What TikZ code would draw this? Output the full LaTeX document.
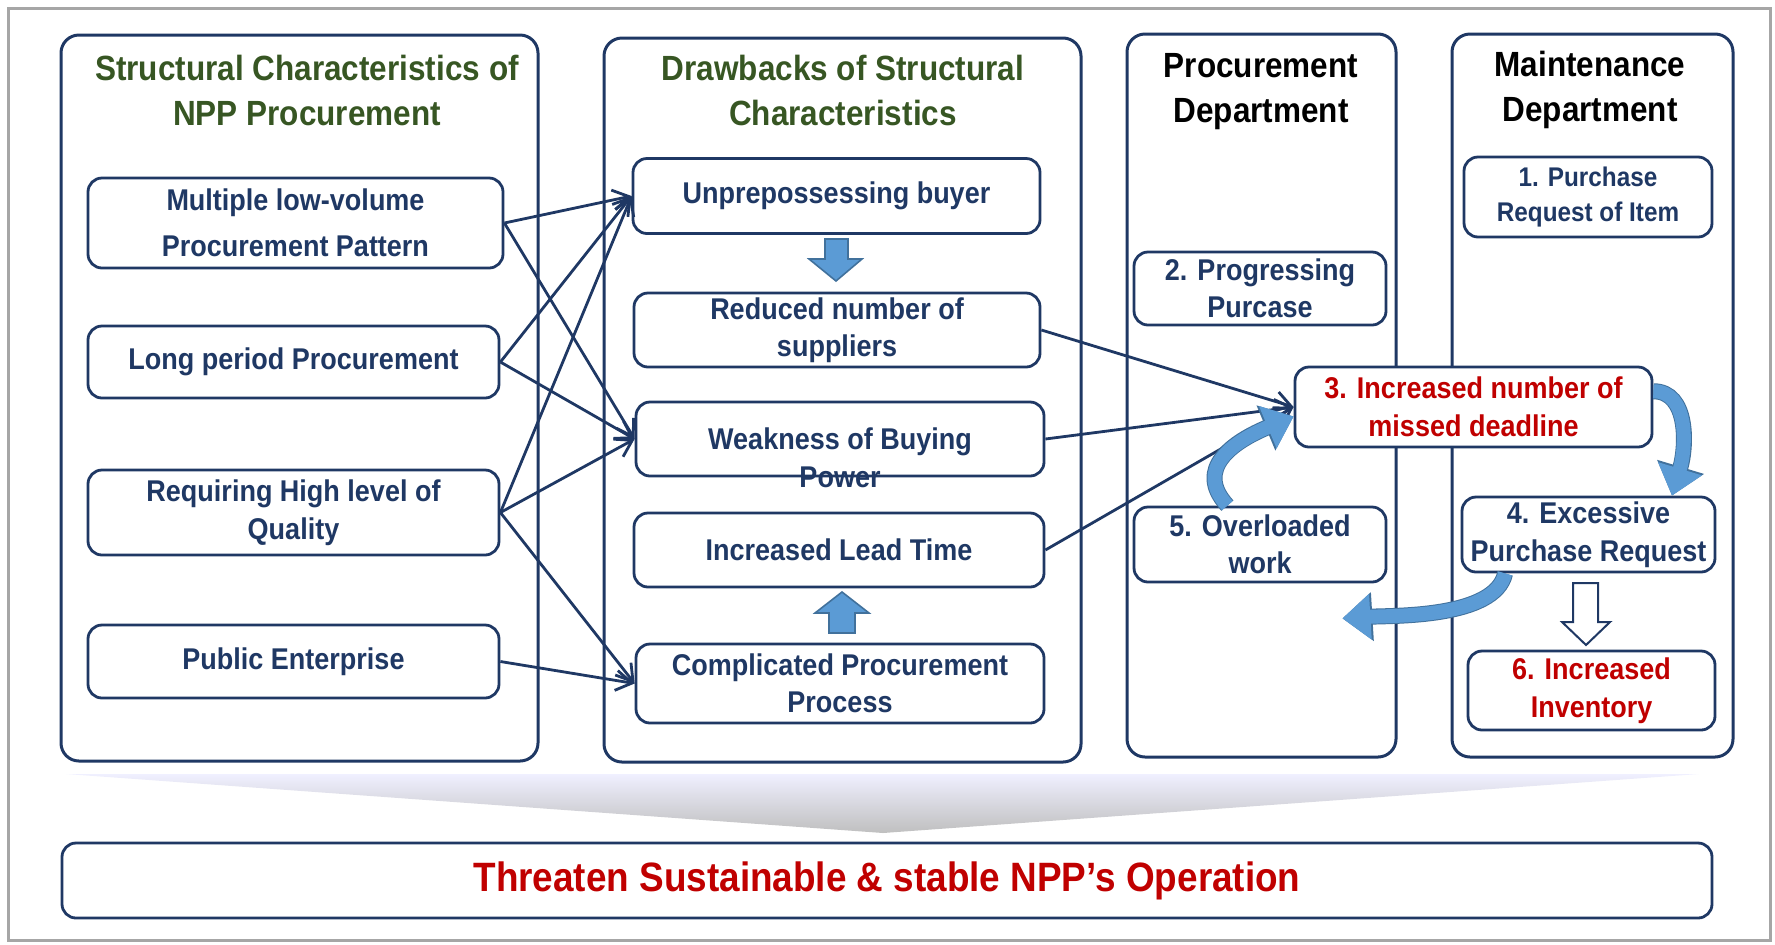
\documentclass[tikz,border=0pt]{standalone}
\usepackage{fontspec}
\setmainfont{Liberation Sans}[FakeStretch=0.9]
\usetikzlibrary{arrows.meta,positioning}
\definecolor{navy}{HTML}{1F3864}
\definecolor{leafgreen}{HTML}{375623}
\definecolor{darkred}{HTML}{C00000}
\definecolor{arrowblue}{HTML}{5B9BD5}
\definecolor{arrowedge}{HTML}{41719C}
\definecolor{framegray}{HTML}{A6A6A6}
\newcommand{\itemfont}{\bfseries\fontsize{15pt}{18.75pt}\selectfont}
\newcommand{\headfont}{\bfseries\fontsize{17.5pt}{22.5pt}\selectfont}
\tikzset{
	panel/.style = {draw=navy, line width=1.5pt, rounded corners=9pt},
	item/.style = {draw=navy, line width=1.4pt, rounded corners=7pt, fill=white,
		text=navy, font=\itemfont, align=center, inner sep=0pt},
	boxsize/.style 2 args = {minimum width=#1*0.5pt, minimum height=#2*0.5pt},
	heading/.style = {font=\headfont, align=center, text=leafgreen},
	dept/.style = {font=\headfont, align=center, text=black},
	link/.style = {navy, line width=1.4pt, -{Straight Barb[length=8pt,width=10pt]}},
	bendarrow/.style = {arrowblue, line width=7pt, -{Triangle[width=22pt,length=14pt]},
		preaction={draw=arrowedge, line width=8pt, -{Triangle[width=23.5pt,length=15pt]}}},
	blockarrow/.style = {fill=arrowblue, draw=arrowedge, line width=0.8pt}
}

\begin{document}
\begin{tikzpicture}[x=0.5pt, y=-0.5pt]

	\useasboundingbox (0,0) rectangle (1775,944);
	\draw[framegray, line width=1.5pt] (8,8) rectangle (1770,940);

	\draw[panel] (61,35) rectangle (538,761);
	\draw[panel] (604,38) rectangle (1081,762);
	\draw[panel] (1127,34) rectangle (1396,757);
	\draw[panel] (1452,34) rectangle (1733,757);

	\node[heading] (structhead) at (307,90) {Structural Characteristics of\\NPP Procurement};
	\node[heading] (drawhead) at (843,90) {Drawbacks of Structural\\Characteristics};
	\node[dept] (prochead) at (1261,92) {Procurement\\Department};
	\node[dept] (mainthead) at (1590,90) {Maintenance\\Department};

	\node[item, boxsize={415}{90}, font=\bfseries\fontsize{15pt}{23pt}\selectfont] (multi) at (295.5,223) {Multiple low-volume\\Procurement Pattern};
	\node[item, boxsize={411}{72}] (longp) at (293.5,362) {Long period Procurement};
	\node[item, boxsize={411}{85}] (quality) at (293.5,512.5) {Requiring High level of\\Quality};
	\node[item, boxsize={411}{73}] (public) at (293.5,661.5) {Public Enterprise};

	\node[item, boxsize={407}{75}] (unprep) at (836.5,196) {Unprepossessing buyer};
	\node[item, boxsize={406}{74}] (reduced) at (837,330) {Reduced number of\\suppliers};
	\node[item, boxsize={408}{74},
		label={[text=navy, font=\itemfont, align=center, yshift=-9.5pt]center:{Weakness of Buying\\Power}}] (weak) at (840,439) {};
	\node[item, boxsize={410}{74}] (lead) at (839,550) {Increased Lead Time};
	\node[item, boxsize={408}{79}] (complic) at (840,683.5) {Complicated Procurement\\Process};

	\node[item, boxsize={252}{73}] (prog) at (1260,288.5) {2. Progressing\\Purcase};
	\node[item, boxsize={252}{75}] (overl) at (1260,544.5) {5. Overloaded\\work};

	\node[item, boxsize={248}{80}, font=\bfseries\fontsize{13.5pt}{17.5pt}\selectfont] (req) at (1588,197) {1. Purchase\\Request of Item};
	\node[item, boxsize={357}{80}, text=darkred] (missed) at (1473.5,407) {3. Increased number of\\missed deadline};
	\node[item, boxsize={253}{75}] (excess) at (1588.5,534.5) {4. Excessive\\Purchase Request};
	\node[item, boxsize={247}{79}, text=darkred] (invent) at (1591.5,690.5) {6. Increased\\Inventory};

	\draw[blockarrow] (825,239) -- (848,239) -- (848,259) -- (862,259) -- (836,281) -- (809,259) -- (825,259) -- cycle;
	\draw[blockarrow] (829,633) -- (855,633) -- (855,613) -- (869,613) -- (842,592) -- (815,613) -- (829,613) -- cycle;
	\draw[fill=white, draw=navy, line width=1pt] (1573,583) -- (1598,583) -- (1598,622) -- (1610,622) -- (1586,645) -- (1562,622) -- (1573,622) -- cycle;

	\draw[link] (multi.east) -- (unprep.west);
	\draw[link] (multi.east) -- (weak.west);
	\draw[link] (longp.east) -- (unprep.west);
	\draw[link] (longp.east) -- (weak.west);
	\draw[link] (quality.east) -- (unprep.west);
	\draw[link] (quality.east) -- (weak.west);
	\draw[link] (quality.east) -- (complic.west);
	\draw[link] (public.east) -- (complic.west);
	\draw[link] (reduced.east) -- (missed.west);
	\draw[link] (weak.east) -- (missed.west);
	\draw[link] (lead.east) -- (missed.west);

	\draw[bendarrow] (missed.5) .. controls +(35,0) and +(15,-50) .. (excess.25);
	\draw[bendarrow] (excess.205) .. controls +(-10,45) and +(50,-3) .. ([xshift=-22.5pt,yshift=-17.5pt]overl.south east);
	\draw[bendarrow] (overl.130) .. controls +(-34,-37) and +(-60,25) .. (missed.183);

	\shade[top color=blue!6, bottom color=black!25] (66,774) -- (1699,774) -- (883,833) -- cycle;

	\node[item, boxsize={1650}{75}, text=darkred, font=\bfseries\fontsize{20.5pt}{24pt}\selectfont] (threat) at (887,880.5) {Threaten Sustainable \& stable NPP’s Operation};

\end{tikzpicture}
\end{document}
